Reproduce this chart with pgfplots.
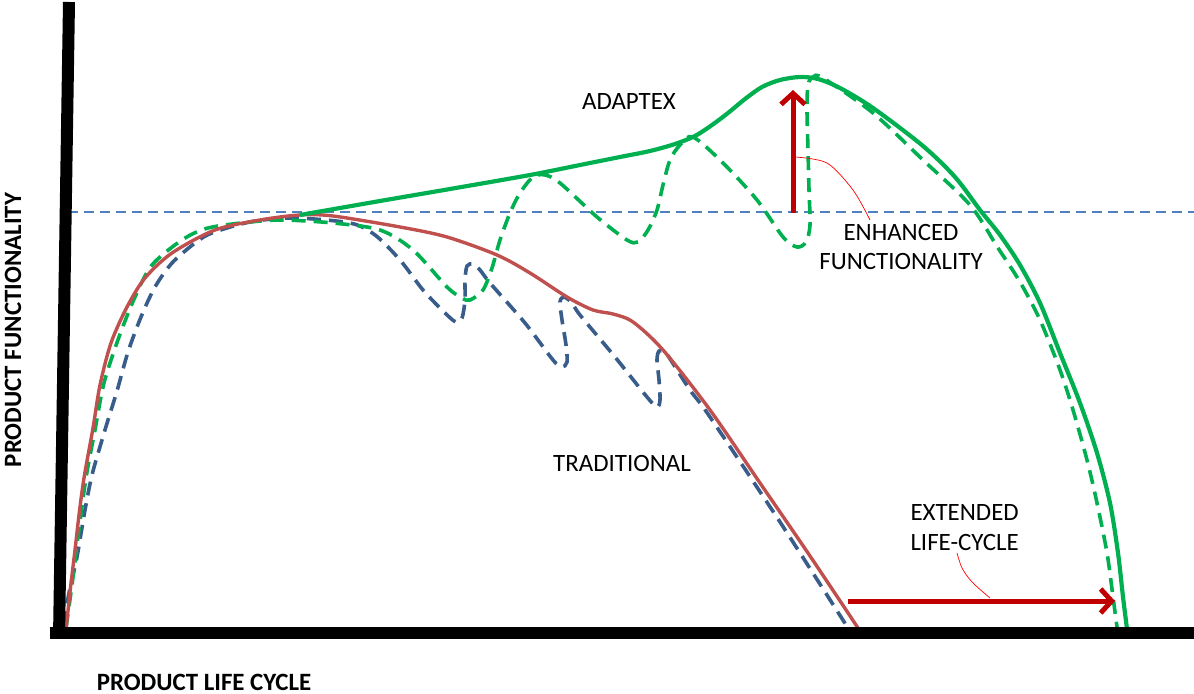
\documentclass[border=0pt]{standalone}
\usepackage{fontspec}
\setmainfont{Carlito}
\usepackage{pgfplots}
\pgfplotsset{compat=1.18}
\usetikzlibrary{arrows.meta}

\definecolor{tradred}{HTML}{C0504D}
\definecolor{tradblue}{HTML}{385D8A}
\definecolor{adgreen}{HTML}{00B050}
\definecolor{arrowred}{HTML}{C00000}
\definecolor{refblue}{HTML}{4F81BD}

\begin{document}
\begin{tikzpicture}
\begin{axis}[
    name=ax,
    width=1194bp, height=694bp,
    scale only axis,
    xmin=0, xmax=1194, ymin=0, ymax=694,
    y dir=reverse,
    hide axis,
    clip=false,
]
% reference level
\addplot[refblue, line width=1.4bp, dash pattern=on 10bp off 6bp] coordinates {(68,212) (1194,212)};

% traditional, dashed (functionality lost over time)
\addplot[tradblue, line width=3.6bp, dash pattern=on 14bp off 8bp, smooth, tension=0.5] coordinates {
  (63,625) (70,588) (77,557) (85,510) (92,475) (102,440) (108,420) (117,391)
  (128,352) (141,317) (155,287) (172,263) (195,243) (212,233) (250,222) (293,218)
  (350,223) (375,235) (400,260) (423,290) (445,313) (456,322) (462,318) (465,300)
  (465,280) (467,266) (473,264) (480,270) (490,283) (525,323) (553,360) (562,367)
  (567,362) (566,345) (562,320) (560,302) (564,297) (572,303) (580,315) (615,357)
  (647,397) (657,407) (660,400) (659,380) (657,360) (659,351) (665,352) (672,362)
  (690,390) (710,417) (780,522) (848,628)
};

% adaptex, dashed
\addplot[adgreen, line width=3.6bp, dash pattern=on 14bp off 8bp, smooth, tension=0.5] coordinates {
  (66,628) (72,585) (78,537) (86,478) (95,430) (104,383) (119,337) (135,297)
  (152,265) (182,240) (208,228) (250,222) (283,220) (333,223) (380,230)
  (413,250) (447,287) (462,298) (470,300) (483,290) (492,268) (500,240) (510,213)
  (520,193) (533,177) (545,175) (560,183) (597,217) (627,240) (638,242) (648,230)
  (657,210) (663,185) (670,160) (680,145) (693,137) (723,163) (757,200) (783,237)
  (797,247) (806,242) (810,225) (809,190) (808,150) (807,110) (808,85) (813,77)
  (823,78) (873,113) (923,160) (970,205) (998,248) (1020,282) (1040,320)
  (1060,370) (1073,410) (1087,460) (1097,503) (1107,553) (1113,597) (1117,627)
};

% traditional, solid
\addplot[tradred, line width=3.4bp, smooth, tension=0.5] coordinates {
  (66,630) (70,592) (75,550) (79,515) (84,478) (93,428) (100,385) (111,343)
  (127,307) (145,278) (172,253) (215,230) (260,220) (300,215) (333,216) (400,227)
  (447,237) (497,255) (530,273) (567,297) (593,310) (613,314) (633,322) (663,350)
  (710,410) (760,483) (810,556) (858,628)
};

% adaptex, solid
\addplot[adgreen, line width=4.2bp, smooth, tension=0.5] coordinates {
  (300,215) (380,201) (450,189) (530,175) (580,165) (620,157) (650,151) (675,144)
  (695,136) (712,125) (728,113) (745,99) (762,87) (780,80) (800,77) (818,79)
  (840,88) (873,108) (923,146) (955,177) (980,210) (1000,235) (1020,265) (1040,303)
  (1060,353) (1080,403) (1097,453) (1110,503) (1118,553) (1123,597) (1128,637)
};

% axes
\addplot[black, line width=12bp] coordinates {(69,2) (59,638)};
\addplot[black, line width=12bp] coordinates {(50,633) (1194,633)};

% arrows
\addplot[arrowred, line width=5bp, -{Straight Barb[length=11bp,width=24bp]}] coordinates {(793,213) (793,90)};
\addplot[arrowred, line width=5bp, -{Straight Barb[length=11bp,width=24bp]}] coordinates {(848,601) (1115,601)};

% callout leaders
\addplot[red, line width=0.7bp, smooth] coordinates {(795,157) (827,163) (853,190) (870,220)};
\addplot[red, line width=0.7bp, smooth] coordinates {(957,553) (962,568) (972,582) (990,598)};

% labels
\node[font=\fontsize{25}{30}\selectfont] at (axis cs:629,102) {ADAPTEX};
\node[font=\fontsize{25}{30}\selectfont] at (axis cs:622,463) {TRADITIONAL};
\node[font=\fontsize{25}{30}\selectfont, align=center] at (axis cs:901,247) {ENHANCED\\FUNCTIONALITY};
\node[font=\fontsize{25}{30}\selectfont, align=left, anchor=west] at (axis cs:907,528) {EXTENDED\\LIFE-CYCLE};
\node[font=\fontsize{25}{30}\selectfont\bfseries, inner sep=1bp] at (axis cs:204,682) {PRODUCT LIFE CYCLE};
\node[font=\fontsize{25}{30}\selectfont\bfseries, rotate=90] at (axis cs:13,330) {PRODUCT FUNCTIONALITY};
\end{axis}
\pgfresetboundingbox
\path[use as bounding box] (ax.south west) rectangle (ax.north east);
\end{tikzpicture}
\end{document}
